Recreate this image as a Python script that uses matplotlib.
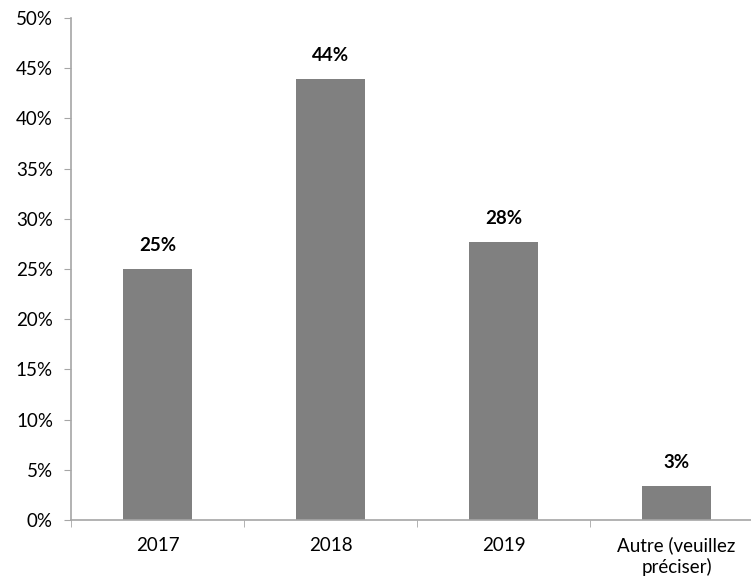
import matplotlib
matplotlib.use("Agg")
import matplotlib.pyplot as plt
from matplotlib.ticker import FixedLocator, MultipleLocator, FuncFormatter

categories = ["2017", "2018", "2019", "Autre (veuillez\npréciser)"]
values = [25.0, 43.9, 27.7, 3.4]

plt.rcParams["font.family"] = ["Lato", "DejaVu Sans"]

fig = plt.figure(figsize=(7.51, 5.82), dpi=100)
W, H = 751, 582
left, right, top, bottom = 71, 763, 18, 520
ax = fig.add_axes([left / W, 1 - bottom / H, (right - left) / W, (bottom - top) / H])

x = list(range(len(categories)))
ax.bar(x, values, width=0.4, color="#808080", zorder=2)

for xi, v in zip(x, values):
    ax.annotate(f"{v:.0f}%", (xi, v), xytext=(0, 11), textcoords="offset points",
                ha="center", va="bottom", fontsize=13.5, fontweight="bold", color="black")

ax.set_xlim(-0.5, len(categories) - 0.5)
ax.set_ylim(0, 50)
ax.yaxis.set_major_locator(MultipleLocator(5))
ax.yaxis.set_major_formatter(FuncFormatter(lambda v, p: f"{v:.0f}%"))

ax.set_xticks(x)
ax.set_xticklabels(categories, fontsize=13.5, multialignment="center", linespacing=1.25)
ax.xaxis.set_minor_locator(FixedLocator([i - 0.5 for i in range(len(categories) + 1)]))
ax.tick_params(axis="x", which="major", length=0, pad=12)
ax.tick_params(axis="x", which="minor", length=5, color="#a6a6a6", direction="out")
ax.tick_params(axis="y", length=5, color="#a6a6a6", labelsize=13.5, pad=8)

for s in ["top", "right"]:
    ax.spines[s].set_visible(False)
for s in ["left", "bottom"]:
    ax.spines[s].set_color("#a6a6a6")
    ax.spines[s].set_linewidth(1.2)

fig.savefig("out.png", dpi=100)
